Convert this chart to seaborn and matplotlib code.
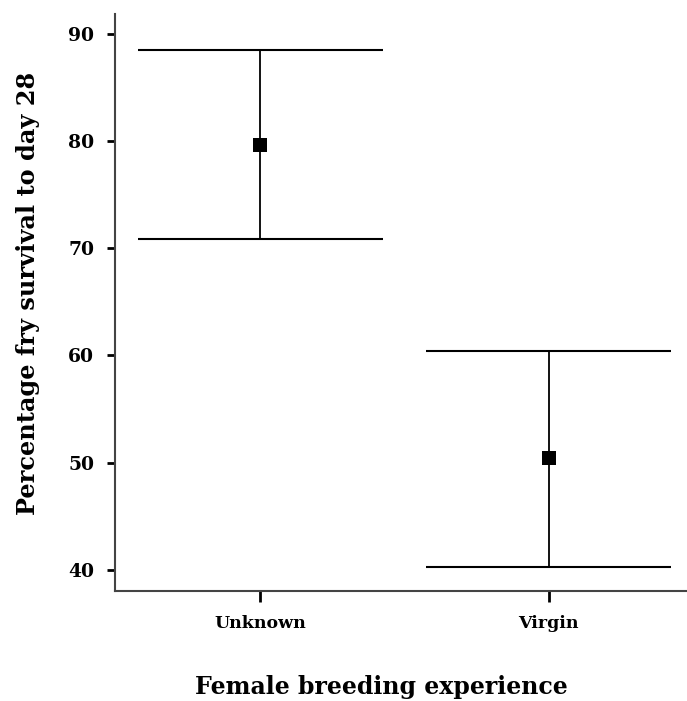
import matplotlib
matplotlib.use("Agg")
import matplotlib.pyplot as plt
import seaborn as sns
import pandas as pd
import numpy as np

categories = ["Unknown", "Virgin"]
means = [79.7, 50.4]
lower = [70.9, 40.2]
upper = [88.5, 60.4]
yticks = [40, 50, 60, 70, 80, 90]

sns.set_theme(style="ticks")
plt.rcParams['font.family'] = ['DejaVu Serif', 'Liberation Serif']
plt.rcParams['font.weight'] = 'bold'
plt.rcParams['text.color'] = 'black'
plt.rcParams['axes.labelcolor'] = 'black'
plt.rcParams['xtick.color'] = 'black'
plt.rcParams['ytick.color'] = 'black'

df = pd.DataFrame({"cat": categories, "mean": means, "lo": lower, "hi": upper})

fig = plt.figure(figsize=(6.87, 7.01), dpi=100)
ax = fig.add_axes([0.1674, 0.157, 0.8326, 0.823])

xpos = np.arange(len(categories))
half = 0.425
ax.vlines(xpos, df["lo"], df["hi"], color="black", lw=1.3, zorder=2)
ax.hlines(df["hi"], xpos - half, xpos + half, color="black", lw=1.5, zorder=2)
ax.hlines(df["lo"], xpos - half, xpos + half, color="black", lw=1.5, zorder=2)
sns.scatterplot(x=xpos, y=df["mean"], marker="s", s=110, color="black",
                edgecolor="black", linewidth=0, ax=ax, zorder=3)

ax.set_xlim(-0.503, 1.48)
ax.set_ylim(38.0, 91.9)
ax.set_xticks(xpos)
ax.set_xticklabels(categories, fontsize=12.5, fontweight="bold", color="black")
ax.set_yticks(yticks)
ax.set_yticklabels([str(v) for v in yticks], fontsize=13.5, fontweight="bold", color="black")
ax.tick_params(axis="y", length=6, width=2, pad=9, color="black")
ax.tick_params(axis="x", length=8, width=2, pad=9, color="black")
for s in ["top", "right"]:
    ax.spines[s].set_visible(False)
for s in ["left", "bottom"]:
    ax.spines[s].set_linewidth(1.5)
    ax.spines[s].set_color("#444444")
ax.set_xlabel("Female breeding experience", fontsize=17, fontweight="bold", color="black")
ax.set_ylabel("Percentage fry survival to day 28", fontsize=17.3, fontweight="bold", color="black")
ax.xaxis.set_label_coords(0.465, -0.145)
ax.yaxis.set_label_coords(-0.132, 0.515)

fig.savefig("out.png", dpi=100)
